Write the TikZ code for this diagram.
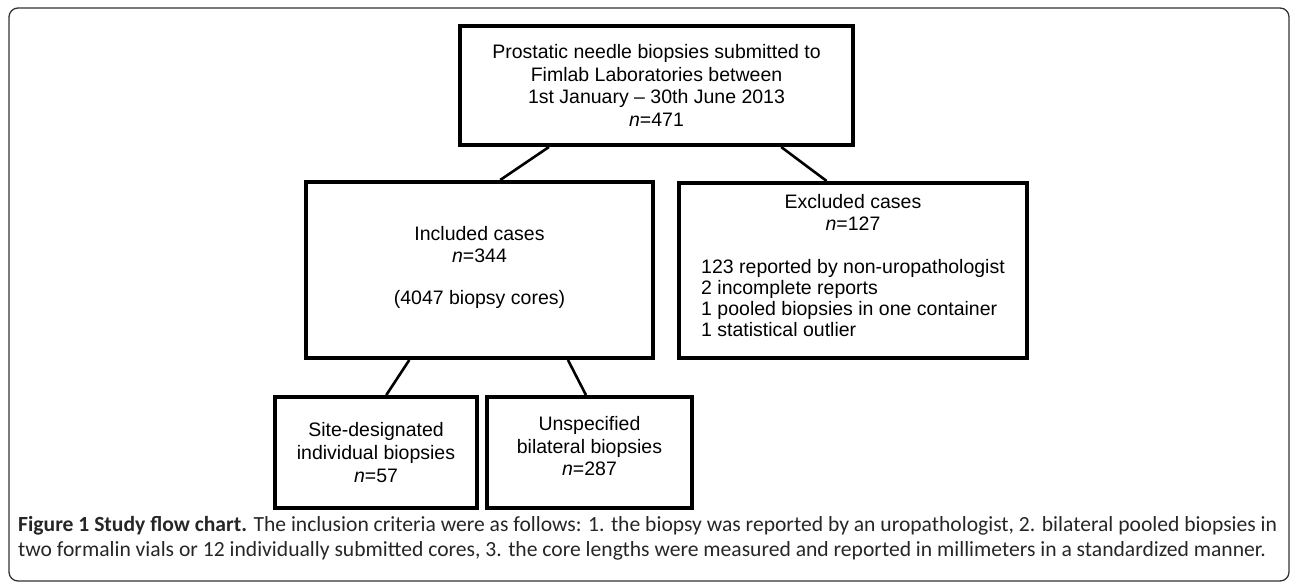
\documentclass[tikz,border=0pt]{standalone}
\usepackage{fontspec}
\setmainfont{Liberation Sans}
\newfontfamily\capfont{Carlito}
\usetikzlibrary{calc}
\begin{document}
\begin{tikzpicture}[x=1pt,y=-1pt,
  box/.style={draw=black, line width=4pt, fill=white, inner sep=0pt, align=center,
    font=\fontsize{19.5}{22.7}\selectfont},
  conn/.style={draw=black, line width=2.6pt},
  capline/.style={anchor=base west, inner sep=0pt, font=\capfont\fontsize{21.6}{25}\selectfont, text=black!85}]
\useasboundingbox (0,0) rectangle (1292,583);
\draw[line width=1.3pt, draw=black!80, rounded corners=9pt] (9,8) rectangle (1289,581);
% boxes
\node[box, minimum width=393pt, minimum height=119pt] (top) at (656.5,85.5)
  {Prostatic needle biopsies submitted to\\Fimlab Laboratories between\\1st January -- 30th June 2013\\\textit{n}=471};
\node[box, minimum width=347pt, minimum height=176pt] (inc) at (479.5,270)
  {Included cases\\\textit{n}=344\\[19pt](4047 biopsy cores)\\[-13pt]};
\node[box, minimum width=348pt, minimum height=175pt] (exc) at (853,270.5)
  {Excluded cases\\\textit{n}=127\\[27pt]
   \fontsize{19.5}{21}\selectfont\begin{tabular}{@{}l@{}}123 reported by non-uropathologist\\2 incomplete reports\\1 pooled biopsies in one container\\1 statistical outlier\end{tabular}\\[3pt]};
\node[box, minimum width=202pt, minimum height=111pt] (site) at (376,452.5)
  {Site-designated\\individual biopsies\\\textit{n}=57};
\node[box, minimum width=205pt, minimum height=111pt] (unsp) at (589.5,452.5)
  {Unspecified\\bilateral biopsies\\\textit{n}=287\\[-10pt]};
% connectors
\draw[conn] ($(top.south west)!0.229!(top.south east)$) -- ($(inc.north west)!0.559!(inc.north east)$);
\draw[conn] ($(top.south west)!0.814!(top.south east)$) -- ($(exc.north west)!0.425!(exc.north east)$);
\draw[conn] ($(inc.south west)!0.30!(inc.south east)$) -- ($(site.north west)!0.55!(site.north east)$);
\draw[conn] ($(inc.south west)!0.752!(inc.south east)$) -- ($(unsp.north west)!0.483!(unsp.north east)$);
% caption
\node[capline] (cap1) at (18,531)
  {\textbf{Figure 1 Study flow chart.} The inclusion criteria were as follows: 1. the biopsy was reported by an uropathologist, 2. bilateral pooled biopsies in};
\node[capline] (cap2) at (18,556)
  {two formalin vials or 12 individually submitted cores, 3. the core lengths were measured and reported in millimeters in a standardized manner.};
\end{tikzpicture}
\end{document}
